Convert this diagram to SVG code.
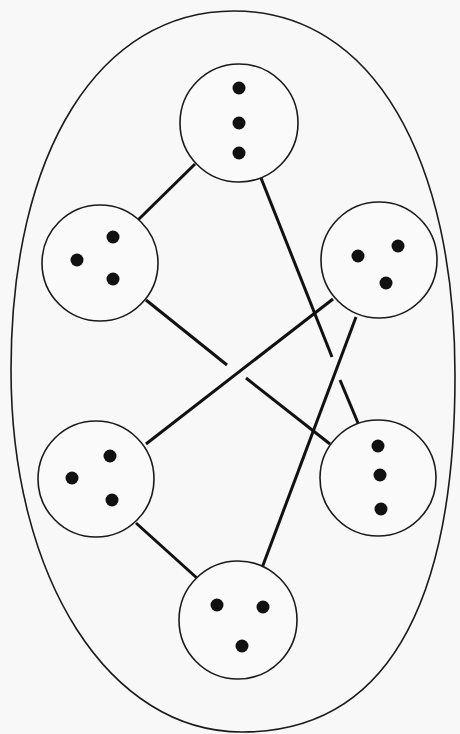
<svg xmlns="http://www.w3.org/2000/svg" width="460" height="734" viewBox="0 0 460 734">
<style>
.bg{fill:#f8f8f8}
.outer{fill:none;stroke:#1a1a1a;stroke-width:1.6}
.node{fill:#fafafa;stroke:#1a1a1a;stroke-width:1.6}
.dot{fill:#111}
.edge{stroke:#111;stroke-width:3;stroke-linecap:butt;fill:none}
</style>
<rect class="bg" x="0" y="0" width="460" height="734"/>
<path id="outer" class="outer" d="M234,11 C374,11 455,160 455,375 C455,580 400,732 242,732 C110,732 11,580 11,370 C11,150 100,11 234,11 Z"/>
<g id="connectors">
<line class="edge" x1="195" y1="164" x2="138" y2="220"/>
<line class="edge" x1="261" y1="178" x2="332" y2="357"/>
<line class="edge" x1="340" y1="380" x2="358" y2="423"/>
<line class="edge" x1="146" y1="300" x2="227" y2="365"/>
<line class="edge" x1="246" y1="378" x2="330" y2="444"/>
<line class="edge" x1="333" y1="299" x2="146" y2="444"/>
<line class="edge" x1="356" y1="317" x2="262" y2="568"/>
<line class="edge" x1="136" y1="523" x2="198" y2="579"/>
</g>
<g id="node-top">
<circle class="node" cx="239" cy="123" r="59"/>
<circle class="dot" cx="239" cy="88" r="6.5"/>
<circle class="dot" cx="239" cy="123" r="6.5"/>
<circle class="dot" cx="239" cy="153" r="6.5"/>
</g>
<g id="node-left-upper">
<circle class="node" cx="100" cy="263" r="58"/>
<circle class="dot" cx="113" cy="237" r="6.5"/>
<circle class="dot" cx="77" cy="260" r="6.5"/>
<circle class="dot" cx="113" cy="279" r="6.5"/>
</g>
<g id="node-right-upper">
<circle class="node" cx="379" cy="260" r="58"/>
<circle class="dot" cx="358" cy="256" r="6.5"/>
<circle class="dot" cx="398" cy="246" r="6.5"/>
<circle class="dot" cx="386" cy="283" r="6.5"/>
</g>
<g id="node-left-lower">
<circle class="node" cx="96" cy="479" r="58"/>
<circle class="dot" cx="110" cy="456" r="6.5"/>
<circle class="dot" cx="72" cy="478" r="6.5"/>
<circle class="dot" cx="112" cy="500" r="6.5"/>
</g>
<g id="node-right-lower">
<circle class="node" cx="378" cy="478" r="58"/>
<circle class="dot" cx="378" cy="446" r="6.5"/>
<circle class="dot" cx="380" cy="475" r="6.5"/>
<circle class="dot" cx="381" cy="509" r="6.5"/>
</g>
<g id="node-bottom">
<circle class="node" cx="238" cy="620" r="59"/>
<circle class="dot" cx="217" cy="605" r="6.5"/>
<circle class="dot" cx="263" cy="607" r="6.5"/>
<circle class="dot" cx="242" cy="646" r="6.5"/>
</g>
</svg>
